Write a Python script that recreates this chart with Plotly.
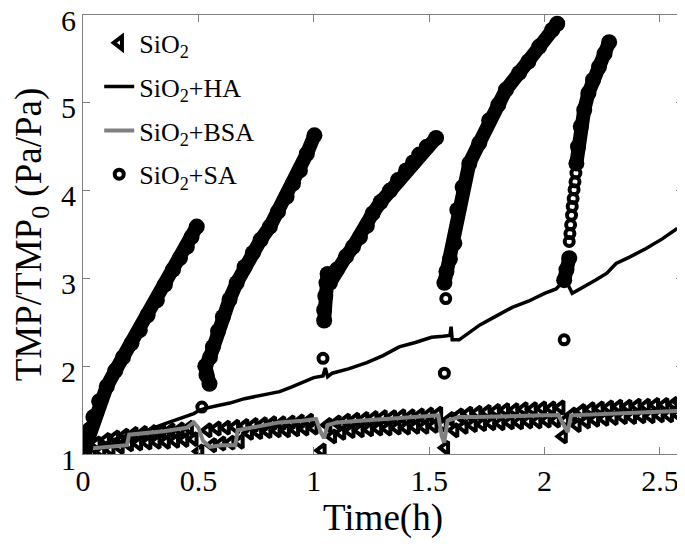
import plotly.graph_objects as go

# ---------------- data ----------------
# SiO2 (triangles) : per filtration cycle, sampling times and two alternating levels
tri_c1_x = [0.02, 0.06, 0.10, 0.14, 0.18, 0.22, 0.26, 0.30, 0.34, 0.38, 0.42, 0.46]
tri_c1_hi = [1.06, 1.12, 1.16, 1.19, 1.21, 1.23, 1.24, 1.25, 1.26, 1.27, 1.28, 1.30]
tri_c1_lo = [1.00, 1.03, 1.05, 1.08, 1.11, 1.12, 1.13, 1.14, 1.14, 1.15, 1.16, 1.17]
tri_c2_x = [0.54, 0.58, 0.62, 0.66, 0.70, 0.74, 0.78, 0.82, 0.86, 0.90, 0.94, 0.98]
tri_c2_hi = [1.27, 1.29, 1.30, 1.31, 1.32, 1.33, 1.34, 1.35, 1.35, 1.36, 1.37, 1.38]
tri_c2_lo = [1.10, 1.12, 1.13, 1.14, 1.24, 1.25, 1.26, 1.27, 1.27, 1.28, 1.29, 1.30]
tri_c3_x = [1.06, 1.10, 1.14, 1.18, 1.22, 1.26, 1.30, 1.34, 1.38, 1.42, 1.46, 1.50, 1.54]
tri_c3_hi = [1.33, 1.36, 1.38, 1.39, 1.40, 1.41, 1.42, 1.42, 1.43, 1.43, 1.44, 1.45, 1.46]
tri_c3_lo = [1.20, 1.24, 1.26, 1.27, 1.28, 1.29, 1.29, 1.30, 1.30, 1.31, 1.31, 1.32, 1.33]
tri_c4_x = [1.59, 1.63, 1.67, 1.71, 1.75, 1.79, 1.83, 1.87, 1.91, 1.95, 1.99, 2.03, 2.07]
tri_c4_hi = [1.40, 1.44, 1.46, 1.47, 1.48, 1.49, 1.50, 1.50, 1.51, 1.51, 1.52, 1.52, 1.53]
tri_c4_lo = [1.27, 1.31, 1.33, 1.34, 1.35, 1.35, 1.36, 1.36, 1.37, 1.37, 1.38, 1.38, 1.38]
tri_c5_x = [2.12, 2.16, 2.20, 2.24, 2.28, 2.32, 2.36, 2.40, 2.44, 2.48, 2.52, 2.56, 2.59]
tri_c5_hi = [1.45, 1.49, 1.51, 1.52, 1.53, 1.54, 1.54, 1.55, 1.55, 1.56, 1.56, 1.57, 1.58]
tri_c5_lo = [1.33, 1.37, 1.39, 1.40, 1.41, 1.42, 1.42, 1.43, 1.43, 1.44, 1.44, 1.45, 1.46]
tri_start_x = [0.0, 0.505, 1.035, 1.57, 2.08]
tri_start_y = [1.0, 1.03, 1.04, 1.07, 1.20]

# SiO2+HA
ha_x = [0.0, 0.03, 0.08, 0.13, 0.20, 0.277, 0.35, 0.42, 0.48, 0.506, 0.53, 0.58, 0.636,
        0.70, 0.78, 0.852, 0.90, 0.95, 1.00, 1.04, 1.05, 1.06, 1.08, 1.15, 1.23, 1.30,
        1.37, 1.44, 1.51, 1.56, 1.59, 1.595, 1.60, 1.63, 1.68, 1.72, 1.79, 1.86, 1.93,
        2.00, 2.05, 2.08, 2.09, 2.12, 2.17, 2.22, 2.27, 2.31, 2.366, 2.44, 2.51, 2.575]
ha_y = [1.0, 1.02, 1.10, 1.16, 1.22, 1.27, 1.34, 1.41, 1.46, 1.50, 1.52, 1.55, 1.58,
        1.63, 1.67, 1.71, 1.76, 1.82, 1.87, 1.89, 1.98, 1.88, 1.92, 1.97, 2.04, 2.12,
        2.22, 2.27, 2.33, 2.34, 2.35, 2.45, 2.30, 2.30, 2.40, 2.47, 2.57, 2.67, 2.74,
        2.83, 2.88, 2.96, 2.99, 2.83, 2.90, 2.98, 3.06, 3.17, 3.24, 3.34, 3.45, 3.57]

# SiO2+BSA
bsa_x = [0.02, 0.10, 0.19, 0.20, 0.25, 0.30, 0.35, 0.40, 0.45, 0.48, 0.50, 0.52, 0.55,
         0.60, 0.66, 0.67, 0.75, 0.85, 0.95, 1.01, 1.03, 1.045, 1.06, 1.10, 1.20, 1.30,
         1.40, 1.50, 1.54, 1.555, 1.565, 1.58, 1.63, 1.70, 1.80, 1.90, 2.00, 2.06, 2.08,
         2.10, 2.115, 2.20, 2.30, 2.40, 2.50, 2.58]
bsa_y = [1.06, 1.08, 1.10, 1.22, 1.23, 1.25, 1.26, 1.28, 1.30, 1.36, 1.30, 1.15, 1.08,
         1.10, 1.10, 1.27, 1.31, 1.36, 1.38, 1.40, 1.25, 1.18, 1.33, 1.36, 1.38, 1.40,
         1.41, 1.43, 1.44, 1.20, 1.13, 1.38, 1.42, 1.42, 1.43, 1.43, 1.44, 1.44, 1.35,
         1.25, 1.44, 1.45, 1.46, 1.47, 1.48, 1.49]

# SiO2+SA : dense runs of points in each cycle
sa1_x = [0.0, 0.01, 0.016, 0.03, 0.045, 0.07, 0.103, 0.14, 0.173, 0.21, 0.246, 0.28,
         0.32, 0.355, 0.39, 0.42, 0.45, 0.47, 0.493]
sa1_y = [1.0, 1.08, 1.15, 1.28, 1.42, 1.60, 1.77, 1.95, 2.10, 2.26, 2.41, 2.58,
         2.75, 2.93, 3.10, 3.23, 3.36, 3.47, 3.59]
sa2_x = [0.548, 0.535, 0.53, 0.55, 0.563, 0.585, 0.606, 0.635, 0.666, 0.70, 0.736, 0.77,
         0.81, 0.845, 0.882, 0.91, 0.94, 0.97, 1.003]
sa2_y = [1.80, 1.90, 2.00, 2.10, 2.22, 2.40, 2.56, 2.76, 2.95, 3.13, 3.29, 3.44,
         3.59, 3.76, 3.93, 4.08, 4.23, 4.42, 4.63]
sa3_x = [1.045, 1.045, 1.05, 1.055, 1.06, 1.07, 1.10, 1.14, 1.17, 1.20, 1.23, 1.255,
         1.29, 1.33, 1.365, 1.40, 1.43, 1.457, 1.49, 1.53]
sa3_y = [2.52, 2.64, 2.80, 2.95, 3.05, 2.95, 3.10, 3.25, 3.36, 3.47, 3.60, 3.74,
         3.87, 4.00, 4.12, 4.23, 4.32, 4.41, 4.50, 4.60]
sa4_x = [1.566, 1.575, 1.59, 1.609, 1.622, 1.645, 1.674, 1.717, 1.76, 1.80, 1.833, 1.89,
         1.93, 1.977, 2.033, 2.055]
sa4_y = [2.95, 3.08, 3.22, 3.40, 3.78, 4.04, 4.31, 4.54, 4.80, 4.98, 5.15, 5.34,
         5.47, 5.64, 5.83, 5.90]
sa5a_x = [2.085, 2.095, 2.107]
sa5a_y = [2.98, 3.10, 3.23]
sa5b_x = [2.138, 2.145, 2.157, 2.172, 2.19, 2.21, 2.236, 2.26, 2.28]
sa5b_y = [4.31, 4.50, 4.73, 4.92, 5.11, 5.26, 5.41, 5.56, 5.69]
# SiO2+SA : separated (visible) points
sa_open_x = [0.515, 1.04, 1.566, 1.572, 2.085, 2.107, 2.11, 2.113, 2.117, 2.12, 2.124,
             2.128, 2.132, 2.136]
sa_open_y = [1.535, 2.09, 1.92, 2.77, 2.30, 3.42, 3.51, 3.61, 3.72, 3.82, 3.91,
             4.01, 4.10, 4.20]

x_ticks = [0, 0.5, 1, 1.5, 2, 2.5]
x_ticklabels = ["0", "0.5", "1", "1.5", "2", "2.5"]
y_ticks = [1, 2, 3, 4, 5, 6]

# ---------------- figure ----------------
FONT = "Liberation Serif"
fig = go.Figure()

tri_x, tri_y = [], []
for xs, hi, lo in [(tri_c1_x, tri_c1_hi, tri_c1_lo), (tri_c2_x, tri_c2_hi, tri_c2_lo),
                   (tri_c3_x, tri_c3_hi, tri_c3_lo), (tri_c4_x, tri_c4_hi, tri_c4_lo),
                   (tri_c5_x, tri_c5_hi, tri_c5_lo)]:
    for xv, h, l in zip(xs, hi, lo):
        tri_x += [xv, xv + 0.02]
        tri_y += [h, l]
tri_x += tri_start_x
tri_y += tri_start_y

fig.add_trace(go.Scatter(
    x=tri_x, y=tri_y, mode="markers", name="SiO<sub>2</sub>", legendgroup="a",
    marker=dict(symbol="triangle-left-open", size=11, color="black",
                line=dict(width=4, color="black"))))

fig.add_trace(go.Scatter(
    x=ha_x, y=ha_y, mode="lines", name="SiO<sub>2</sub>+HA", legendgroup="b",
    line=dict(color="black", width=3.5)))

fig.add_trace(go.Scatter(
    x=bsa_x, y=bsa_y, mode="lines", name="SiO<sub>2</sub>+BSA", legendgroup="c",
    line=dict(color="#808080", width=4)))

fig.add_trace(go.Scatter(
    x=sa_open_x, y=sa_open_y, mode="markers", name="SiO<sub>2</sub>+SA", legendgroup="d",
    marker=dict(symbol="circle-open", size=9, color="black",
                line=dict(width=4, color="black"))))

for sx, sy in [(sa1_x, sa1_y), (sa2_x, sa2_y), (sa3_x, sa3_y), (sa4_x, sa4_y),
               (sa5a_x, sa5a_y), (sa5b_x, sa5b_y)]:
    fig.add_trace(go.Scatter(
        x=sx, y=sy, mode="lines+markers", showlegend=False, legendgroup="d",
        line=dict(color="black", width=14),
        marker=dict(symbol="circle", size=16, color="black")))

axis_common = dict(
    showgrid=False, zeroline=False, showline=True, linecolor="#808080", linewidth=1,
    mirror="ticks", ticks="inside", ticklen=7, tickcolor="#808080", tickwidth=1,
    automargin=False, ticklabeloverflow="allow",
    tickfont=dict(family=FONT, size=30, color="black"))

fig.update_xaxes(range=[0, 2.6], tickvals=x_ticks, ticktext=x_ticklabels,
                 title=dict(text="Time(h)", font=dict(family=FONT, size=37, color="black"),
                            standoff=0),
                 **axis_common)
fig.update_yaxes(range=[1, 6], tickvals=y_ticks, ticklabelshift=5,
                 title=dict(text="TMP/TMP<sub>0</sub> (Pa/Pa)",
                            font=dict(family=FONT, size=37, color="black"), standoff=10),
                 **axis_common)

# The page adds an 8 px body margin, so the figure is sized to fit the window.
fig.update_layout(
    width=677, height=539, autosize=False,
    margin=dict(l=75, r=2, t=7, b=93),
    plot_bgcolor="white", paper_bgcolor="white",
    legend=dict(x=0.027, y=0.99, xanchor="left", yanchor="top",
                bgcolor="rgba(0,0,0,0)", font=dict(family=FONT, size=26, color="black"),
                tracegroupgap=7, itemwidth=30),
    showlegend=True,
)

fig.write_html("out.html")
